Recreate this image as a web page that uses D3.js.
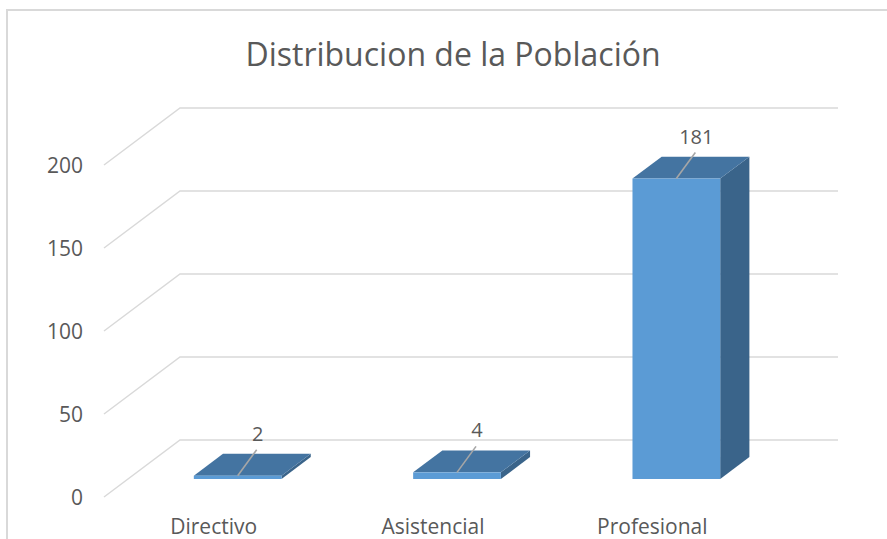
<!DOCTYPE html>
<html>
<head>
<meta charset="utf-8">
<script src="https://cdn.jsdelivr.net/npm/d3@7"></script>
<style>
  html, body { margin: 0; padding: 0; background: #fff; }
  svg { display: block; font-family: "Open Sans", sans-serif; }
  .grid { stroke: #d9d9d9; stroke-width: 1.5; fill: none; }
  .tick-label, .cat-label { fill: #595959; font-size: 21px; }
  .value-label { fill: #595959; font-size: 20px; }
  .title { fill: #595959; font-size: 32px; }
  .leader { stroke: #a6a6a6; stroke-width: 1.6; }
</style>
</head>
<body>
<div id="chart"></div>
<script>
const categories = ['Directivo', 'Asistencial', 'Profesional'];
const values = [2, 4, 181];
const tickValues = [0, 50, 100, 150, 200];
const titleText = 'Distribucion de la Población';

const width = 887, height = 539;
// 3d look: how far the back wall sits from the front plane
const depthX = 76, depthY = 57;
// bars sit between these depth fractions
const barFront = 0.316, barBack = 0.70;

const svg = d3.select('#chart')
  .append('svg')
  .attr('width', width)
  .attr('height', height);

// chart border (only top and left edges show inside the picture)
svg.append('rect')
  .attr('x', 7).attr('y', 10)
  .attr('width', width + 20).attr('height', height + 20)
  .attr('fill', 'none')
  .attr('stroke', '#d9d9d9')
  .attr('stroke-width', 2);

const x = d3.scaleBand()
  .domain(categories)
  .range([104, 762])
  .paddingInner(0.6)
  .paddingOuter(0.3);

const y = d3.scaleLinear()
  .domain([0, 200])
  .range([497, 165]);

// project a point in the front plane back to depth z
const px = (sx, z) => sx + z * depthX;
const py = (sy, z) => sy - z * depthY;

// gridlines: diagonal on the left, flat on the back wall
const grid = svg.append('g');
tickValues.forEach(function(t) {
  grid.append('polyline')
    .attr('class', 'grid')
    .attr('points', [
      [x.range()[0], y(t)],
      [px(x.range()[0], 1), py(y(t), 1)],
      [px(x.range()[1], 1), py(y(t), 1)]
    ].map(p => p.join(',')).join(' '));

  svg.append('text')
    .attr('class', 'tick-label')
    .attr('text-anchor', 'end')
    .attr('x', 83)
    .attr('y', y(t) + 8)
    .text(t);
});

// bars
const bars = svg.selectAll('g.bar')
  .data(values)
  .enter()
  .append('g')
  .attr('class', 'bar');

function pts(list) {
  return list.map(p => p.join(',')).join(' ');
}

bars.each(function(d, i) {
  const g = d3.select(this);
  const x0 = x(categories[i]);
  const x1 = x0 + x.bandwidth();
  const yTop = y(d), yBot = y(0);

  // side face
  g.append('polygon')
    .attr('fill', '#3a648a')
    .attr('points', pts([
      [px(x1, barFront), py(yTop, barFront)],
      [px(x1, barBack), py(yTop, barBack)],
      [px(x1, barBack), py(yBot, barBack)],
      [px(x1, barFront), py(yBot, barFront)]
    ]));

  // top face
  g.append('polygon')
    .attr('fill', '#4474a1')
    .attr('points', pts([
      [px(x0, barFront), py(yTop, barFront)],
      [px(x0, barBack), py(yTop, barBack)],
      [px(x1, barBack), py(yTop, barBack)],
      [px(x1, barFront), py(yTop, barFront)]
    ]));

  // front face
  g.append('rect')
    .attr('fill', '#5b9bd5')
    .attr('x', px(x0, barFront))
    .attr('y', py(yTop, barFront))
    .attr('width', x.bandwidth())
    .attr('height', yBot - yTop);

  // leader line and value label
  const cx = px(x0 + x.bandwidth() / 2, barFront);
  const cy = py(yTop, barFront);
  g.append('line')
    .attr('class', 'leader')
    .attr('x1', cx).attr('y1', cy)
    .attr('x2', cx + 19).attr('y2', cy - 26);
  g.append('text')
    .attr('class', 'value-label')
    .attr('text-anchor', 'middle')
    .attr('x', cx + 20)
    .attr('y', cy - 35)
    .text(d);
});

// category labels on the front plane
categories.forEach(function(c) {
  svg.append('text')
    .attr('class', 'cat-label')
    .attr('text-anchor', 'middle')
    .attr('x', x(c) + x.bandwidth() / 2)
    .attr('y', 534)
    .text(c);
});

// title
svg.append('text')
  .attr('class', 'title')
  .attr('text-anchor', 'middle')
  .attr('x', 453)
  .attr('y', 66)
  .text(titleText);
</script>
</body>
</html>
